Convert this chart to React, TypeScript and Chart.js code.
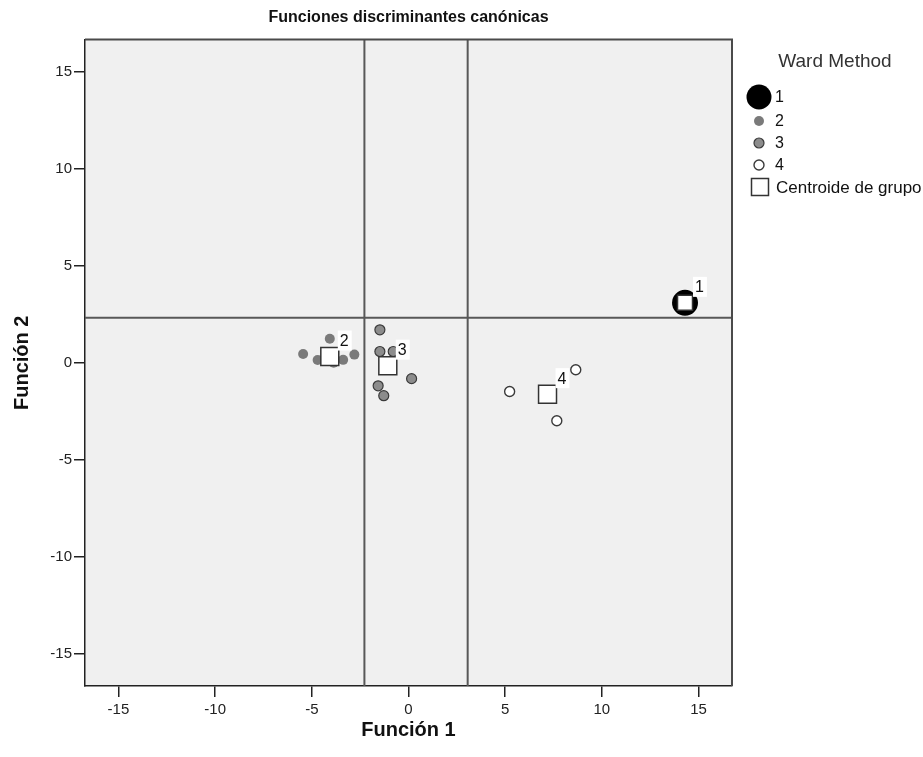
import React, { useEffect, useRef } from 'react';
import { Chart, registerables } from 'chart.js';

Chart.register(...registerables);

const TITLE = 'Funciones discriminantes canónicas';
const X_TITLE = 'Función 1';
const Y_TITLE = 'Función 2';
const LEGEND_TITLE = 'Ward Method';
const LEGEND_LABELS = ['1', '2', '3', '4', 'Centroide de grupo'];
const CENTROID_LABELS = ['1', '2', '3', '4'];

const X_TICKS = [-15, -10, -5, 0, 5, 10, 15];
const Y_TICKS = [-15, -10, -5, 0, 5, 10, 15];
const X_RANGE = [-16.73, 16.73];
const Y_RANGE = [-16.68, 16.68];

const G1_X = [14.3];
const G1_Y = [3.09];
const G2_X = [-5.45, -4.07, -4.7, -3.87, -3.38, -2.8];
const G2_Y = [0.45, 1.24, 0.14, 0.0, 0.15, 0.42];
const G3_X = [-1.48, -1.48, -0.79, 0.16, -1.57, -1.28];
const G3_Y = [1.7, 0.58, 0.58, -0.82, -1.19, -1.7];
const G4_X = [5.23, 8.65, 7.67];
const G4_Y = [-1.48, -0.36, -2.99];
const CENT_X = [14.3, -4.07, -1.07, 7.19];
const CENT_Y = [3.09, 0.32, -0.15, -1.62];

const V_LINES = [-2.28, 3.06];
const H_LINES = [2.32];

const FONT = '"Liberation Sans", Arial, sans-serif';

const pts = (xs: number[], ys: number[]) => xs.map((x, i) => ({ x, y: ys[i] }));

export default function App() {
  const ref = useRef<HTMLCanvasElement>(null);

  useEffect(() => {
    const canvas = ref.current!;

    const lineDs = (data: { x: number; y: number }[]) => ({
      type: 'line' as const,
      data,
      borderColor: '#585858',
      borderWidth: 2,
      pointRadius: 0,
      pointHoverRadius: 0,
      fill: false,
      showLine: true,
    });

    const bgPlugin = {
      id: 'bg',
      beforeDraw(chart: any) {
        const { ctx, chartArea: a } = chart;
        ctx.save();
        ctx.fillStyle = '#ffffff';
        ctx.fillRect(0, 0, chart.width, chart.height);
        ctx.fillStyle = '#f0f0f0';
        ctx.fillRect(a.left, a.top, a.right - a.left, a.bottom - a.top);
        ctx.restore();
      },
      afterDraw(chart: any) {
        const { ctx, chartArea: a } = chart;
        ctx.save();
        ctx.strokeStyle = '#4a4a4a';
        ctx.lineWidth = 2;
        ctx.beginPath();
        ctx.moveTo(a.left, a.top);
        ctx.lineTo(a.right, a.top);
        ctx.lineTo(a.right, a.bottom);
        ctx.stroke();
        ctx.fillStyle = '#111';
        ctx.font = `bold 16px ${FONT}`;
        ctx.textAlign = 'center';
        ctx.textBaseline = 'middle';
        ctx.fillText(TITLE, (a.left + a.right) / 2, 18);
        ctx.restore();
      },
    };

    const labelPlugin = {
      id: 'centroidLabels',
      afterDatasetsDraw(chart: any) {
        const { ctx } = chart;
        const meta = chart.getDatasetMeta(0);
        ctx.save();
        ctx.font = `16px ${FONT}`;
        ctx.textAlign = 'left';
        ctx.textBaseline = 'middle';
        meta.data.forEach((el: any, i: number) => {
          const t = CENTROID_LABELS[i];
          const w = ctx.measureText(t).width;
          const tx = el.x + 10;
          const ty = el.y - 16;
          ctx.fillStyle = '#ffffff';
          ctx.fillRect(tx - 2, ty - 10, w + 5, 20);
          ctx.fillStyle = '#111';
          ctx.fillText(t, tx, ty + 1);
        });
        ctx.restore();
      },
    };

    const LEGEND_RADII = [12.5, 5, 5, 5];

    const legendPlugin = {
      id: 'customLegend',
      afterDraw(chart: any) {
        const { ctx, chartArea: a } = chart;
        const mx = a.right + 27;
        const lx = a.right + 43;
        ctx.save();
        ctx.fillStyle = '#333';
        ctx.font = `19px ${FONT}`;
        ctx.textAlign = 'center';
        ctx.textBaseline = 'middle';
        ctx.fillText(LEGEND_TITLE, a.right + 103, 62);
        const rows = [97, 121, 143, 165, 187];
        const order = [1, 2, 3, 4, 0];
        rows.forEach((y, i) => {
          const ds = chart.data.datasets[order[i]];
          ctx.beginPath();
          ctx.lineWidth = ds.borderWidth;
          ctx.strokeStyle = ds.borderColor;
          ctx.fillStyle = ds.backgroundColor;
          if (i < 4) {
            ctx.arc(mx, y, LEGEND_RADII[i], 0, Math.PI * 2);
            ctx.fill();
            if (ds.borderWidth > 0) ctx.stroke();
          } else {
            const s = 17;
            ctx.rect(mx - s / 2 + 1, y - s / 2, s, s);
            ctx.fill();
            ctx.stroke();
          }
          ctx.fillStyle = '#111';
          ctx.font = i < 4 ? `16px ${FONT}` : `17px ${FONT}`;
          ctx.textAlign = 'left';
          ctx.fillText(LEGEND_LABELS[i], i < 4 ? lx : lx + 1, y + 1);
        });
        ctx.restore();
      },
    };

    const axisCommon = {
      type: 'linear' as const,
      grid: {
        display: true,
        drawOnChartArea: false,
        drawTicks: true,
        tickLength: 11,
        color: '#222',
        lineWidth: 1.5,
      },
      border: { display: true, color: '#222', width: 1.5 },
    };

    const chart = new Chart(canvas, {
      type: 'scatter',
      data: {
        datasets: [
          {
            label: 'Centroide de grupo',
            data: pts(CENT_X, CENT_Y),
            pointStyle: 'rect',
            pointRadius: [10.6, 12.7, 12.7, 12.7],
            backgroundColor: '#ffffff',
            borderColor: '#333',
            borderWidth: 1.5,
          },
          {
            label: '1',
            data: pts(G1_X, G1_Y),
            pointRadius: 13,
            backgroundColor: '#000000',
            borderColor: '#000000',
            borderWidth: 0,
          },
          {
            label: '2',
            data: pts(G2_X, G2_Y),
            pointRadius: 5,
            backgroundColor: '#7a7a7a',
            borderColor: '#7a7a7a',
            borderWidth: 0,
          },
          {
            label: '3',
            data: pts(G3_X, G3_Y),
            pointRadius: 5,
            backgroundColor: '#8c8c8c',
            borderColor: '#3a3a3a',
            borderWidth: 1.2,
          },
          {
            label: '4',
            data: pts(G4_X, G4_Y),
            pointRadius: 5,
            backgroundColor: '#ffffff',
            borderColor: '#3a3a3a',
            borderWidth: 1.4,
          },
          ...V_LINES.map((v) => lineDs([{ x: v, y: Y_RANGE[0] }, { x: v, y: Y_RANGE[1] }])),
          ...H_LINES.map((h) => lineDs([{ x: X_RANGE[0], y: h }, { x: X_RANGE[1], y: h }])),
        ] as any,
      },
      options: {
        responsive: false,
        animation: false,
        events: [],
        layout: { padding: { left: 0, top: 39.5, right: 191, bottom: 0 } },
        plugins: {
          legend: { display: false },
          tooltip: { enabled: false },
          title: { display: false },
        },
        scales: {
          x: {
            ...axisCommon,
            min: X_RANGE[0],
            max: X_RANGE[1],
            afterBuildTicks: (s: any) => {
              s.ticks = X_TICKS.map((v) => ({ value: v }));
            },
            afterFit: (s: any) => {
              s.height = 71;
            },
            ticks: { font: { family: FONT, size: 15 }, color: '#222', padding: 4, maxRotation: 0 },
            title: {
              display: true,
              text: X_TITLE,
              color: '#111',
              font: { family: FONT, size: 20, weight: 'bold' },
              padding: { top: 0, bottom: 15 },
            },
          },
          y: {
            ...axisCommon,
            min: Y_RANGE[0],
            max: Y_RANGE[1],
            afterBuildTicks: (s: any) => {
              s.ticks = Y_TICKS.map((v) => ({ value: v }));
            },
            afterFit: (s: any) => {
              s.width = 85;
            },
            ticks: { font: { family: FONT, size: 15 }, color: '#222', padding: 2 },
            title: {
              display: true,
              text: Y_TITLE,
              color: '#111',
              font: { family: FONT, size: 20, weight: 'bold' },
              padding: { top: 10, bottom: 0 },
            },
          },
        },
      } as any,
      plugins: [bgPlugin, labelPlugin, legendPlugin],
    });

    return () => chart.destroy();
  }, []);

  return (
    <div style={{ position: 'fixed', left: 0, top: 0, width: 923, height: 757, background: '#fff' }}>
      <canvas ref={ref} width={923} height={757} style={{ display: 'block' }} />
    </div>
  );
}
